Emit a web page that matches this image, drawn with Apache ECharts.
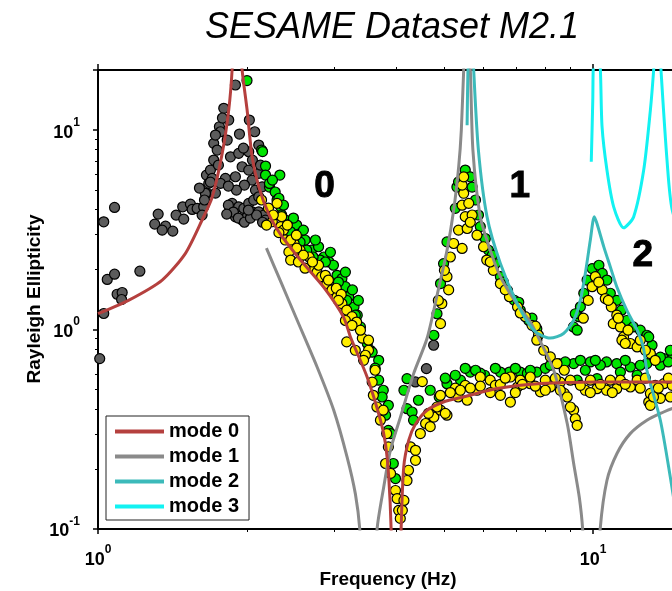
<!DOCTYPE html>
<html><head><meta charset="utf-8">
<script src="https://cdn.jsdelivr.net/npm/echarts@6/dist/echarts.min.js"></script>
<style>html,body{margin:0;padding:0;background:#fff}#c{width:672px;height:591px}</style>
</head><body><div id="c"></div>
<script>
// ---------- DATA (frequency Hz, ellipticity) ----------
const mode0 = [[1.00,1.20],[1.152,1.40],[1.348,1.77],[1.502,2.41],[1.623,3.54],[1.701,4.61],[1.782,7.64],[1.837,12.6],[1.866,20],[1.887,40],[1.913,40],[1.955,20],[2.001,12.6],[2.048,7.35],[2.113,5.19],[2.213,3.79],[2.336,3.01],[2.565,2.23],[2.854,1.636],[3.132,1.157],[3.236,0.918],[3.497,0.578],[3.721,0.351],[3.807,0.269],[3.867,0.182],[3.91,0.10],[3.99,0.01],[4.096,0.10],[4.146,0.2045],[4.243,0.278],[4.377,0.335],[4.622,0.394],[5.032,0.437],[5.471,0.459],[6.401,0.506],[7.83,0.536],[10.19,0.546],[14.46,0.546],[20,0.546]];
const mode1 = [[2.189,2.56],[2.347,1.707],[2.526,1.113],[2.771,0.649],[2.994,0.394],[3.186,0.2295],[3.311,0.150],[3.379,0.10],[3.52,0.02],[3.663,0.10],[3.777,0.162],[3.896,0.248],[4.083,0.364],[4.342,0.601],[4.622,0.904],[4.842,1.486],[5.072,2.50],[5.231,3.97],[5.354,6.55],[5.42,10],[5.48,20],[5.56,40],[5.652,20],[5.72,7.94],[5.92,3.68],[6.20,2.50],[6.50,1.84],[6.94,1.40],[7.47,1.09],[7.83,0.87],[8.33,0.625],[8.87,0.338],[9.14,0.213],[9.38,0.145],[9.53,0.10],[9.9,0.02],[10.34,0.10],[10.67,0.175],[11.18,0.239],[11.89,0.3007],[12.85,0.351],[13.89,0.386],[14.46,0.402],[16.4,0.44]];
const mode2 = [[5.568,10.58],[5.589,20],[5.653,50],[5.741,20],[5.868,7.94],[6.109,3.67],[6.497,2.15],[7.023,1.355],[7.586,0.992],[8.199,0.906],[8.72,0.955],[9.14,1.113],[9.428,1.40],[9.649,1.91],[9.877,2.81],[10.06,3.68],[10.19,3.39],[10.52,2.59],[10.84,2.06],[11.17,1.64],[11.70,1.25],[12.28,0.992],[12.63,0.818],[12.85,0.625],[13.68,0.351],[14.33,0.1815],[15.01,0.088]];
const mode3 = [[9.92,6.93],[9.99,14.1],[10.01,20],[10.16,40],[10.35,20],[10.43,10.4],[10.67,6.3],[11.01,4.12],[11.53,3.235],[12.08,3.67],[12.66,6.3],[13.06,12.6],[13.26,20],[13.5,40],[13.72,20],[14.11,7.07],[14.46,3.97],[15.7,2.2]];

const grayPts = [[1.008,0.715],[1.027,1.203],[1.027,3.467],[1.080,4.094],[1.044,1.782],[1.080,1.894],[1.215,1.961],[1.093,1.503],[1.119,1.533],[1.116,1.414],[1.323,3.789],[1.302,3.376],[1.369,3.298],[1.416,3.113],[1.348,3.149],[1.438,3.746],[1.483,4.123],[1.537,4.254],[1.490,3.577],[1.550,4.0],[1.586,4.046],[1.635,4.123],[1.623,3.746],[1.661,4.813],[1.656,5.946],[1.687,6.299],[1.713,7.071],[1.713,8.578],[1.741,7.94],[1.759,10.39],[1.795,12.85],[1.768,9.806],[1.824,8.91],[1.852,7.345],[1.924,7.64],[1.931,9.55],[1.837,11.22],[1.895,16.82],[2.022,11.22],[2.073,9.806],[2.016,7.783],[1.955,6.545],[1.895,5.832],[1.809,5.725],[1.768,5.402],[1.701,5.725],[1.674,5.402],[1.648,4.813],[2.016,6.299],[2.048,5.612],[2.080,5.0],[2.112,8.41],[2.112,6.063],[2.146,5.194],[1.866,4.288],[1.924,4.123],[1.970,4.046],[2.016,4.288],[2.063,4.455],[2.112,4.628],[1.895,3.673],[1.955,3.535],[2.001,3.673],[2.048,3.891],[2.112,3.891],[2.162,3.746],[2.179,3.535],[4.765,0.834],[4.607,0.637],[4.377,0.546],
[1.834,4.20],[1.877,3.88],[1.921,3.62],[1.976,3.45],[2.032,3.62],[2.091,3.75],[2.15,3.45],[2.013,3.97],[1.82,3.79],[1.727,9.44],[1.784,11.49],[1.967,8.12],[2.051,7.07],[2.129,6.67],[1.976,5.30],[1.904,5.00],[1.834,5.24],[1.751,6.67],[1.687,5.48],[1.641,4.46],[1.603,5.12],[1.727,4.83]];

const greenPts = [[2.00,17.7],[2.14,7.94],[2.18,6.6],[2.18,5.95],[2.33,5.95],[2.22,5.18],[2.28,4.89],[2.30,4.46],[2.34,4.12],[2.15,7.8],[2.22,5.40],[2.32,4.55],[2.35,3.75],[2.39,3.54],[2.45,3.40],[2.52,3.34],[2.56,3.03],[2.62,2.81],[2.70,2.50],[2.79,2.60],[2.86,2.31],[2.93,2.18],[2.99,2.10],[3.04,1.87],[3.11,1.80],[3.16,1.64],[3.21,1.46],[3.29,1.30],[3.34,1.18],[2.81,2.23],[2.72,2.31],[2.64,2.50],[2.45,3.09],[2.56,2.74],[2.88,2.18],[3.06,1.73],
[2.251,5.61],[2.37,4.20],[2.482,3.62],[2.60,3.15],[2.749,2.81],[2.948,2.44],[3.161,1.94],[3.266,1.58],[3.357,1.40],
[3.18,1.40],[3.31,1.18],[3.39,1.03],[3.50,0.851],[3.55,0.787],[3.69,0.701],[3.69,0.557],[3.77,0.496],[3.75,0.459],[3.81,0.372],[3.86,0.312],[3.90,0.301],[3.95,0.213],[3.99,0.179],[3.58,0.77],[3.63,0.64],[3.86,0.417],
[4.21,0.567],[4.15,0.496],[4.21,0.401],[4.31,0.386],[4.44,0.442],[4.34,0.351],[5.07,0.535],[4.89,0.459],[4.69,0.496],[5.40,0.557],
[5.65,0.612],[6.04,0.590],[6.78,0.612],[7.13,0.612],[7.70,0.612],[8.52,0.675],[9.14,0.675],[9.88,0.688],[10.65,0.688],[11.17,0.675],[11.90,0.649],[12.85,0.675],[13.90,0.715],[9.29,0.557],[10.19,0.567],[12.28,0.590],[5.27,0.590],[5.92,0.604],[6.50,0.612],[8.01,0.639],[10.35,0.662],[13.36,0.701],[14.46,0.715],[7.37,0.604],[9.65,0.625],[11.36,0.612],
[5.03,0.570],[5.52,0.639],[5.79,0.625],[6.35,0.639],[6.97,0.639],[7.47,0.625],[8.2,0.662],[8.79,0.688],[9.43,0.701],[10.11,0.701],[11.62,0.701],[12.46,0.662],[13.68,0.662],[14.2,0.688],
[4.77,0.936],[4.84,1.20],[4.92,1.70],[4.99,2.14],[5.07,2.75],[5.27,4.05],[5.31,5.18],[5.52,6.30],[5.65,5.83],[5.70,5.18],[5.79,4.46],[5.92,3.28],[6.06,2.86],[6.15,2.50],[6.35,2.14],[6.50,1.84],[6.72,1.57],[6.94,1.40],[7.13,1.25],[7.42,1.11],[7.70,1.01],[5.35,5.50],
[5.87,3.75],[6.26,2.36],[6.59,1.73],[7.08,1.37],[7.53,1.14],
[9.13,1.03],[9.36,1.16],[9.43,1.30],[9.58,1.52],[9.73,1.77],[9.96,2.02],[10.28,2.10],[10.44,1.91],[10.67,1.77],[10.84,1.52],[11.17,1.40],[11.42,1.25],[11.70,1.11],[12.06,1.03],[12.46,0.992],[12.85,0.936],[13.16,0.834],[9.29,0.992],[9.21,1.20],[12.96,0.918],[13.68,0.727],[14.33,0.787]];

const yellowPts = [[2.30,4.29],[2.25,3.47],[2.35,3.68],[2.34,3.28],[2.37,3.15],[2.43,2.45],[2.49,2.70],[2.56,2.50],[2.67,2.31],[2.70,2.06],[2.77,1.94],[2.83,1.84],[2.90,1.70],[2.97,1.58],[3.04,1.46],[3.11,1.35],[3.18,1.25],[3.26,1.16],[2.45,2.23],[2.54,2.18],[2.62,2.03],[2.39,2.81],[2.32,3.06],
[2.14,4.46],[2.21,4.06],[2.26,3.75],[2.19,3.34],[2.45,2.81],[2.52,2.56],[2.60,2.36],[2.79,2.10],[2.88,1.87],[3.03,1.61],[3.10,1.50],[3.33,1.09],[3.42,0.905],[3.52,0.787],
[2.413,3.34],[2.516,2.97],[2.712,2.18],[2.921,1.77],[3.06,1.40],[3.161,1.11],[3.469,0.743],
[3.18,0.867],[3.31,0.787],[3.44,0.701],[3.63,0.625],[3.60,0.468],[3.66,0.409],[3.72,0.351],[3.83,0.301],[3.86,0.258],[3.81,0.213],[3.90,0.190],[3.99,0.156],[4.02,0.142],[4.05,0.124],[4.08,0.113],[3.39,0.992],[3.26,1.05],[3.52,0.884],[3.58,0.545],[3.77,0.394],
[4.52,0.548],[4.28,0.258],[4.38,0.248],[4.38,0.221],[4.24,0.197],[4.21,0.175],[4.15,0.139],[4.12,0.124],[4.59,0.338],[4.69,0.326],[4.77,0.364],[4.92,0.394],[5.07,0.372],[4.65,0.380],[4.48,0.301],
[4.84,0.409],[5.03,0.380],[5.34,0.459],[5.57,0.442],[5.83,0.496],[6.20,0.557],[6.50,0.468],[6.81,0.433],[7.04,0.515],[7.47,0.535],[7.83,0.487],[8.20,0.515],[8.75,0.478],[9.14,0.394],[9.21,0.357],[9.29,0.331],[9.65,0.496],[10.19,0.505],[10.65,0.496],[11.17,0.505],[11.90,0.515],[12.96,0.433],[13.06,0.478],[13.90,0.535],[14.33,0.459],[8.75,0.625],[7.47,0.578],[12.28,0.557],[5.92,0.578],[6.81,0.578],[5.27,0.508],[7.13,0.557],[8.01,0.557],[8.59,0.545],[9.88,0.557],[11.36,0.557],[13.36,0.525],[14.46,0.525],[5.52,0.525],[6.35,0.525],
[4.917,0.468],[5.150,0.483],[5.396,0.496],[5.653,0.508],[5.922,0.520],[6.201,0.483],[6.497,0.531],[6.649,0.570],[6.968,0.483],[7.20,0.531],[7.647,0.520],[8.011,0.496],[8.392,0.570],[8.59,0.496],[9.0,0.557],[9.428,0.525],[9.877,0.483],[10.35,0.531],[10.84,0.557],[10.94,0.483],[11.62,0.531],[12.46,0.508],[12.76,0.570],[13.55,0.508],[14.2,0.570],[13.68,0.452],
[4.92,1.07],[4.95,1.35],[5.07,1.84],[5.15,2.31],[5.23,2.70],[5.44,2.55],[5.35,3.15],[5.57,3.21],[5.52,3.68],[5.44,4.20],[5.48,4.82],[5.61,4.29],[5.70,3.75],[5.83,2.97],[6.01,2.60],[6.10,2.23],[6.29,1.98],[6.50,1.70],[6.78,1.46],[7.04,1.30],[7.30,1.16],[7.53,1.05],[7.76,0.936],[5.44,5.30],[5.48,5.83],
[5.65,3.45],[6.20,2.18],[6.65,1.58],[7.13,1.21],[7.65,1.04],[5.01,1.98],[5.11,1.58],[4.87,1.40],
[7.70,0.884],[7.95,0.787],[8.20,0.729],[8.46,0.675],[8.87,0.459],[9.00,0.409],
[9.96,1.64],[10.11,1.84],[10.44,1.58],[10.59,1.43],[10.89,1.30],[11.17,1.18],[10.99,1.07],[11.36,1.03],[11.53,0.918],[11.90,0.851],[12.28,0.818],[11.44,0.884],[11.62,0.851],[13.06,0.758],[13.06,0.417],[13.25,0.459],[10.27,1.73],[10.74,1.40],[11.25,1.14],[11.77,0.992],[12.46,0.884],[9.78,1.40],[9.56,1.14],[12.76,0.787],[13.36,0.701]];

const modeLabels = [['0',2.867,5.205],['1',7.115,5.205],['2',12.61,2.332]];
const legendNames = ['mode 0','mode 1','mode 2','mode 3'];
const titleText = 'SESAME Dataset M2.1';
const xName = 'Frequency (Hz)';
const yName = 'Rayleigh Ellipticity';

// ---------- CHART ----------
const FONT = "'Liberation Sans', Arial, Helvetica, sans-serif";
const chart = echarts.init(document.getElementById('c'), null, {renderer:'canvas'});
function supLabel(v){
  const l = Math.log10(v), e = Math.round(l);
  if (Math.abs(l - e) > 1e-6) return '';
  return '{b|10}{s|' + (e < 0 ? '-' + (-e) : e) + '}';
}
const labelRich = {
  b:{fontSize:18,fontWeight:'bold',fontFamily:FONT,color:'#000',padding:[7,0,2,0]},
  s:{fontSize:12,fontWeight:'bold',fontFamily:FONT,color:'#000',verticalAlign:'top'}
};
const axisLine = {show:true,onZero:false,lineStyle:{color:'#000',width:2}};
const majorTick = {show:true,inside:false,length:5,lineStyle:{color:'#000',width:1.5}};
const minorTick = {show:true,splitNumber:9,length:3,lineStyle:{color:'#000',width:1}};
const COLORS = {m0:'#b5403e',m1:'#8a8a8a',m2:'#3cbaba',m3:'#12f2f2'};

function lineSeries(name, data, color, z){
  return {type:'line',name,data,symbol:'none',showSymbol:false,smooth:0.25,clip:true,
    lineStyle:{color,width:3},itemStyle:{color},z,silent:true};
}
function dotSeries(data, color, z){
  return {type:'scatter',data,symbol:'circle',symbolSize:10,clip:true,
    itemStyle:{color,borderColor:'#000',borderWidth:1.2,opacity:1},z,silent:true};
}

const option = {
  animation:false,
  backgroundColor:'#fff',
  textStyle:{fontFamily:FONT},
  grid:{left:98,right:-70,top:70,bottom:62,containLabel:false,outerBoundsMode:'none'},
  xAxis:[
    {type:'log',logBase:10,min:1,max:20,position:'bottom',axisLine,axisTick:majorTick,minorTick,
     splitLine:{show:false},minorSplitLine:{show:false},
     axisLabel:{margin:15,formatter:supLabel,rich:labelRich}},
    {type:'log',logBase:10,min:1,max:20,position:'top',axisLine,axisTick:{...majorTick,length:6},minorTick,
     splitLine:{show:false},minorSplitLine:{show:false},axisLabel:{show:false}}
  ],
  yAxis:[
    {type:'log',logBase:10,min:0.1,max:20,position:'left',axisLine,axisTick:majorTick,minorTick,
     splitLine:{show:false},minorSplitLine:{show:false},
     axisLabel:{margin:18,formatter:supLabel,rich:labelRich,showMaxLabel:false}}
  ],
  legend:{
    data:legendNames,orient:'vertical',left:106,top:416,icon:'rect',
    padding:[3,10,1,9],itemGap:0,itemWidth:49,itemHeight:4,
    backgroundColor:'#fff',borderColor:'#222',borderWidth:1,borderRadius:0,
    textStyle:{fontSize:20,fontWeight:'bold',color:'#000',fontFamily:FONT,lineHeight:25}
  },
  graphic:[
    {type:'text',x:392,y:28,style:{text:titleText,font:'italic 36px '+FONT,fill:'#000',align:'center',verticalAlign:'middle',textAlign:'center',textVerticalAlign:'middle'}},
    {type:'text',x:388,y:580,style:{text:xName,font:'bold 19px '+FONT,fill:'#000',align:'center',verticalAlign:'middle',textAlign:'center',textVerticalAlign:'middle'}},
    {type:'text',x:35,y:299,rotation:Math.PI/2,style:{text:yName,font:'bold 19px '+FONT,fill:'#000',align:'center',verticalAlign:'middle',textAlign:'center',textVerticalAlign:'middle'}}
  ],
  series:[
    dotSeries(grayPts,'#5c5c5c',2),
    dotSeries(greenPts,'#00e400',3),
    dotSeries(yellowPts,'#ffee00',4),
    lineSeries('mode 1',mode1,COLORS.m1,5),
    lineSeries('mode 2',mode2,COLORS.m2,6),
    lineSeries('mode 3',mode3,COLORS.m3,7),
    lineSeries('mode 0',mode0,COLORS.m0,8),
    {type:'scatter',data:modeLabels.map(m=>({name:m[0],value:[m[1],m[2]]})),symbol:'circle',symbolSize:0,
     itemStyle:{color:'#000',opacity:1},z:20,silent:true,
     label:{show:true,position:'inside',formatter:'{b}',fontSize:37,fontWeight:'bold',color:'#000',
            opacity:1,textBorderColor:'#000',textBorderWidth:1,fontFamily:FONT}}
  ]
};
chart.setOption(option);
</script>
</body></html>
